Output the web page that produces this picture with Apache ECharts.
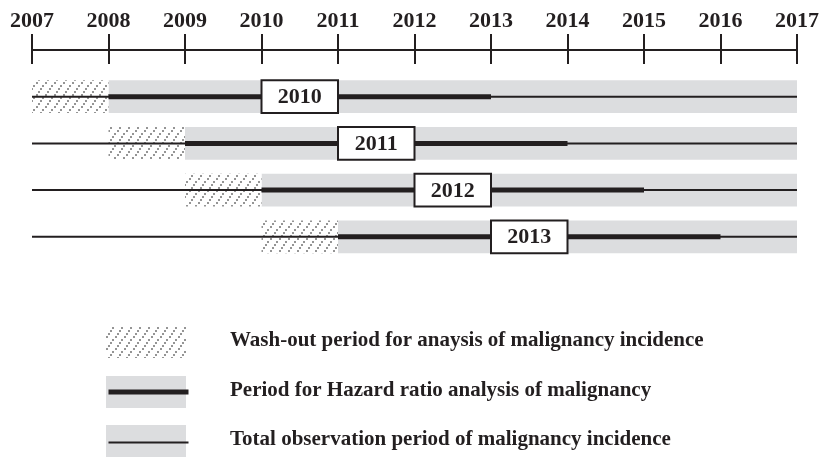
<!DOCTYPE html>
<html lang="en">
<head>
    <meta charset="UTF-8">
    <title>Observation periods</title>
    <script src="https://cdn.jsdelivr.net/npm/echarts@6/dist/echarts.min.js"></script>
    <style>
        html, body { margin: 0; padding: 0; background: #fff; }
        #container { width: 822px; height: 458px; }
    </style>
</head>
<body>
<div id="container"></div>

<script>
    // data
    var yearTicks = [2007, 2008, 2009, 2010, 2011, 2012, 2013, 2014, 2015, 2016, 2017];
    var cohorts = ['2010', '2011', '2012', '2013'];
    var washStart = [2007, 2008, 2009, 2010];
    var washEnd = [2008, 2009, 2010, 2011];
    var hazardEnd = [2013, 2014, 2015, 2016];
    var obsLineStart = [2007, 2007, 2007, 2007];
    var obsEnd = [2017, 2017, 2017, 2017];
    var labelStart = [2010, 2011, 2012, 2013];
    var labelEnd = [2011, 2012, 2013, 2014];
    var legendNames = [
        'Wash-out period for anaysis of malignancy incidence',
        'Period for Hazard ratio analysis of malignancy',
        'Total observation period of malignancy incidence'
    ];

    var INK = '#231f20';
    var GREY = '#dcdddf';
    var SERIF = '"Liberation Serif", "DejaVu Serif", serif';

    // hatch fill: dotted / strokes, fairly steep
    function makeHatch() {
        var c = document.createElement('canvas');
        c.width = 9;
        c.height = 12;
        var ctx = c.getContext('2d');
        ctx.fillStyle = '#fff';
        ctx.fillRect(0, 0, 9, 12);
        ctx.fillStyle = '#959595';
        var pts = [[0, 10], [2, 7], [4, 4], [6, 1]];
        pts.forEach(function (p) { ctx.fillRect(p[0], p[1], 2, 2); });
        return c;
    }
    var hatch = {image: makeHatch(), repeat: 'repeat'};

    var rows = cohorts.map(function (name, i) {
        return [i + 1, washStart[i], washEnd[i], hazardEnd[i], obsLineStart[i], obsEnd[i], labelStart[i], labelEnd[i], name];
    });

    function renderRow(params, api) {
        var y = api.value(0);
        var band = api.size([0, 0.7])[1];
        var p = function (x) { return api.coord([x, y]); };
        var ws = p(api.value(1)), we = p(api.value(2)), he = p(api.value(3));
        var ls = p(api.value(4)), oe = p(api.value(5));
        var bs = p(api.value(6)), be = p(api.value(7));
        var cy = ws[1];
        var top = cy - band / 2;
        return {
            type: 'group',
            children: [
                {type: 'rect', shape: {x: we[0], y: top, width: oe[0] - we[0], height: band},
                    style: {fill: GREY}},
                {type: 'rect', shape: {x: ws[0], y: top, width: we[0] - ws[0], height: band},
                    style: {fill: hatch}},
                {type: 'line', shape: {x1: ls[0], y1: cy, x2: oe[0], y2: cy},
                    style: {stroke: INK, lineWidth: 2}},
                {type: 'line', shape: {x1: we[0], y1: cy, x2: he[0], y2: cy},
                    style: {stroke: INK, lineWidth: 5}},
                {type: 'rect', shape: {x: bs[0], y: top, width: be[0] - bs[0], height: band},
                    style: {fill: '#fff', stroke: INK, lineWidth: 2}},
                {type: 'text', x: (bs[0] + be[0]) / 2, y: cy + 1,
                    style: {text: api.value(8), fill: INK, font: 'bold 22px ' + SERIF,
                        align: 'center', verticalAlign: 'middle'}}
            ]
        };
    }

    // legend drawn as graphics
    var legendY = [342, 392, 441];
    var legendGraphics = [];
    legendGraphics.push({type: 'rect', left: 106, top: legendY[0] - 16,
        shape: {width: 80, height: 32}, style: {fill: hatch}});
    [1, 2].forEach(function (k) {
        legendGraphics.push({type: 'rect', left: 106, top: legendY[k] - 16,
            shape: {width: 80, height: 32}, style: {fill: GREY}});
        legendGraphics.push({type: 'line', left: 106, top: legendY[k] - (k === 1 ? 2.5 : 1),
            shape: {x1: 0, y1: 0, x2: 80, y2: 0},
            style: {stroke: INK, lineWidth: k === 1 ? 5 : 2}});
    });
    legendNames.forEach(function (t, k) {
        legendGraphics.push({type: 'text', left: 230, top: legendY[k] - 12,
            style: {text: t, fill: INK, font: 'bold 21px ' + SERIF}});
    });

    var chart = echarts.init(document.getElementById('container'));
    var option = {
        animation: false,
        grid: {left: 32, right: 22, top: 50, bottom: 174.5, containLabel: false},
        xAxis: [
            {
                type: 'value', position: 'top', min: yearTicks[0], max: yearTicks[yearTicks.length - 1],
                interval: 1,
                axisLine: {show: true, lineStyle: {color: INK, width: 2}},
                axisTick: {show: true, length: 16, lineStyle: {color: INK, width: 2}},
                axisLabel: {margin: 18, color: INK, fontFamily: SERIF, fontWeight: 'bold', fontSize: 22,
                    formatter: function (v) { return String(v); }},
                splitLine: {show: false}
            },
            {
                type: 'value', position: 'top', min: yearTicks[0], max: yearTicks[yearTicks.length - 1],
                interval: 1,
                axisLine: {show: false},
                axisTick: {show: true, inside: true, length: 14, lineStyle: {color: INK, width: 2}},
                axisLabel: {show: false},
                splitLine: {show: false}
            }
        ],
        yAxis: {type: 'value', inverse: true, min: 0, max: 5, show: false},
        series: [{
            type: 'custom',
            renderItem: renderRow,
            encode: {x: [1, 2, 3, 4, 5, 6, 7], y: 0},
            data: rows
        }],
        graphic: legendGraphics
    };
    chart.setOption(option);
</script>
</body>
</html>
